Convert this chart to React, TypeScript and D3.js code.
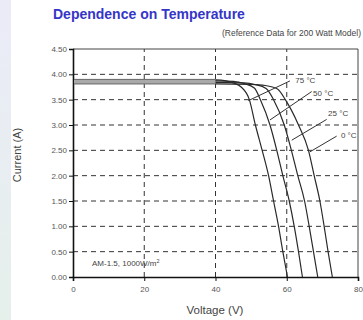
import React, { useRef, useEffect } from 'react';
import * as d3 from 'd3';

// x ticks (V) and y ticks (A)
const voltageTicks = [0, 20, 40, 60, 80];
const currentTicks = [0, 0.5, 1, 1.5, 2, 2.5, 3, 3.5, 4, 4.5];

// I-V curves, per temperature
const temps = ['75 °C', '50 °C', '25 °C', '0 °C'];
const v75 = [0, 40, 43, 45, 47.2, 49.5, 51.2, 53.1, 54.9, 56.3, 57.7, 58.9, 60.2];
const i75 = [3.9, 3.89, 3.87, 3.83, 3.75, 3.5, 3.0, 2.5, 2.0, 1.5, 1.0, 0.5, 0];
const v50 = [0, 40, 45, 48, 50.9, 52.6, 55.3, 57.2, 58.9, 60.7, 62.1, 63.3, 64.4];
const i50 = [3.87, 3.87, 3.86, 3.82, 3.73, 3.5, 3.0, 2.5, 2.0, 1.5, 1.0, 0.5, 0];
const v25 = [0, 40, 48, 51, 54.2, 56.3, 59.3, 61.3, 63.1, 65.0, 66.3, 67.5, 68.7];
const i25 = [3.84, 3.84, 3.83, 3.8, 3.72, 3.5, 3.0, 2.5, 2.0, 1.5, 1.0, 0.5, 0];
const v0 = [0, 40, 50, 54, 57.4, 59.6, 63.3, 66.1, 67.7, 69.3, 70.5, 71.6, 72.8];
const i0 = [3.81, 3.81, 3.8, 3.78, 3.71, 3.5, 3.0, 2.5, 2.0, 1.5, 1.0, 0.5, 0];

// label anchors: [textV, textI, leaderStartV, leaderStartI, leaderEndV, leaderEndI]
const labelPos = [
  [62.4, 3.88, 60.9, 3.87, 49.2, 3.48],
  [67.4, 3.63, 67.0, 3.66, 55.3, 3.1],
  [71.6, 3.23, 71.2, 3.11, 61.4, 2.7],
  [75.2, 2.8, 74.0, 2.78, 66.5, 2.47],
];

export default function App() {
  const ref = useRef<SVGSVGElement | null>(null);

  useEffect(() => {
    if (!ref.current) return;
    const width = 363;
    const height = 320;
    const svg = d3.select(ref.current);
    svg.selectAll('*').remove();
    svg.attr('width', width).attr('height', height);

    const font = 'Liberation Sans, Arial, sans-serif';

    // left light strip
    const defs = svg.append('defs');
    const grad = defs.append('linearGradient').attr('id', 'strip').attr('x1', 0).attr('y1', 0).attr('x2', 0).attr('y2', 1);
    grad.append('stop').attr('offset', '0%').attr('stop-color', '#ebebf8');
    grad.append('stop').attr('offset', '100%').attr('stop-color', '#e5f0eb');
    svg.append('rect').attr('width', width).attr('height', height).attr('fill', '#fff');
    svg.append('rect').attr('width', 11).attr('height', height).attr('fill', 'url(#strip)');

    const x = d3.scaleLinear().domain([0, 80]).range([73, 358]);
    const y = d3.scaleLinear().domain([0, 4.5]).range([277, 49]);

    defs.append('clipPath').attr('id', 'knee')
      .append('rect')
      .attr('x', x(40)).attr('y', 0)
      .attr('width', x(80) - x(40)).attr('height', height);

    // grid
    const grid = svg.append('g').attr('stroke', '#333').attr('stroke-width', 1).attr('stroke-dasharray', '5,4');
    grid.selectAll('line.h')
      .data(currentTicks.filter(d => d > 0 && d < 4.5))
      .join('line')
      .attr('x1', x(0)).attr('x2', x(80))
      .attr('y1', d => y(d)).attr('y2', d => y(d));
    grid.selectAll('line.v')
      .data(voltageTicks.filter(d => d > 0 && d < 80))
      .join('line')
      .attr('class', 'v')
      .attr('x1', d => x(d)).attr('x2', d => x(d))
      .attr('y1', y(0)).attr('y2', y(4.5));

    // frame
    svg.append('path')
      .attr('d', `M${x(0)},${y(4.5)}H${x(80)}V${y(0)}`)
      .attr('fill', 'none').attr('stroke', '#444').attr('stroke-width', 1);

    // axes
    const yAxis = svg.append('g').attr('transform', `translate(${x(0)},0)`)
      .call(d3.axisLeft(y).tickValues(currentTicks).tickFormat(d3.format('.2f')).tickSize(4));
    const xAxis = svg.append('g').attr('transform', `translate(0,${y(0)})`)
      .call(d3.axisBottom(x).tickValues(voltageTicks).tickSize(4));
    [yAxis, xAxis].forEach(a => {
      a.select('.domain').attr('stroke', '#111').attr('stroke-width', 1.6);
      a.selectAll('.tick line').attr('stroke', '#111');
      a.selectAll('.tick text').attr('fill', '#555').style('font-family', font).style('font-size', '8px');
    });
    yAxis.selectAll('.tick text').attr('x', -6);
    xAxis.selectAll('.tick text').attr('y', 9);

    // curves
    const series = [
      { v: v75, i: i75 },
      { v: v50, i: i50 },
      { v: v25, i: i25 },
      { v: v0, i: i0 },
    ];
    const line = d3.line<[number, number]>()
      .x(d => x(d[0]))
      .y(d => y(d[1]))
      .curve(d3.curveMonotoneX);
    // grey overlapping band at short circuit
    svg.append('rect')
      .attr('x', x(0) + 1).attr('y', y(3.9))
      .attr('width', x(40) - x(0)).attr('height', y(3.81) - y(3.9))
      .attr('fill', '#a9a9a9');
    [3.9, 3.81].forEach(v => {
      svg.append('line')
        .attr('x1', x(0) + 1).attr('x2', x(40))
        .attr('y1', y(v)).attr('y2', y(v))
        .attr('stroke', '#666').attr('stroke-width', 1);
    });
    series.forEach(s => {
      svg.append('path')
        .attr('clip-path', 'url(#knee)')
        .attr('d', line(s.v.map((v, k) => [v, s.i[k]] as [number, number])))
        .attr('fill', 'none')
        .attr('stroke', '#2a2a2a')
        .attr('stroke-width', 1.2);
    });

    // temperature labels and leaders
    labelPos.forEach((p, k) => {
      svg.append('line')
        .attr('x1', x(p[2])).attr('y1', y(p[3]))
        .attr('x2', x(p[4])).attr('y2', y(p[5]))
        .attr('stroke', '#333').attr('stroke-width', 1);
      svg.append('text')
        .attr('x', x(p[0])).attr('y', y(p[1]))
        .attr('dy', '0.35em')
        .style('font-family', font).style('font-size', '8px')
        .attr('fill', '#444')
        .text(temps[k]);
    });

    // irradiance note
    const note = svg.append('text')
      .attr('x', 92).attr('y', 266)
      .style('font-family', font).style('font-size', '8px')
      .attr('fill', '#444');
    note.append('tspan').text('AM-1.5, 1000W/m');
    note.append('tspan').attr('dy', -3).style('font-size', '5.5px').text('2');

    // titles
    svg.append('text')
      .attr('x', 53).attr('y', 19)
      .style('font-family', font).style('font-size', '14px').style('font-weight', 'bold')
      .attr('fill', '#3535c8')
      .text('Dependence on Temperature');
    svg.append('text')
      .attr('x', 361).attr('y', 36)
      .attr('text-anchor', 'end')
      .style('font-family', font).style('font-size', '8.5px')
      .attr('fill', '#444')
      .text('(Reference Data for 200 Watt Model)');

    svg.append('text')
      .attr('transform', 'translate(21,155) rotate(-90)')
      .attr('text-anchor', 'middle')
      .style('font-family', font).style('font-size', '11px')
      .attr('fill', '#444')
      .text('Current (A)');
    svg.append('text')
      .attr('x', 215).attr('y', 314)
      .attr('text-anchor', 'middle')
      .style('font-family', font).style('font-size', '11.5px')
      .attr('fill', '#444')
      .text('Voltage (V)');
  }, []);

  return (
    <div style={{ position: 'absolute', left: 0, top: 0 }}>
      <svg ref={ref} style={{ display: 'block' }} />
    </div>
  );
}
